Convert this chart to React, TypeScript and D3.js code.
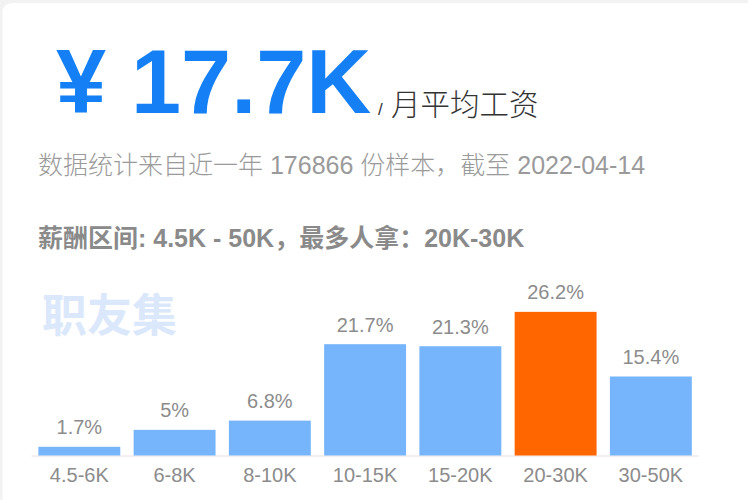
import React from "react";
import * as d3 from "d3";

const categories = ["4.5-6K", "6-8K", "8-10K", "10-15K", "15-20K", "20-30K", "30-50K"];
const shares = [1.7, 5, 6.8, 21.7, 21.3, 26.2, 15.4];
// bar lengths as drawn in the picture (the highlighted bar is drawn taller than its label)
const barLengths = [1.7, 5, 6.8, 21.7, 21.3, 28, 15.4];
const highlightCategory = "20-30K";
const yTicks = [0, 30];

const headline = "¥ 17.7K";
const headlineUnit = "月平均工资";
const subtitle = "数据统计来自近一年 176866 份样本，截至 2022-04-14";
const rangeLine = "薪酬区间: 4.5K - 50K，最多人拿：20K-30K";
const watermark = "职友集";

const W = 748;
const H = 500;

export default function App() {
  const x = d3
    .scaleBand<string>()
    .domain(categories)
    .range([31.7, 698.5])
    .paddingInner(0.14)
    .paddingOuter(0.07);
  const y = d3.scaleLinear().domain([yTicks[0], yTicks[1]]).range([455.5, 301.6]);
  const latin = "'Liberation Sans', Arial, 'Noto Sans CJK SC', sans-serif";

  return (
    <svg
      width={W}
      height={H}
      style={{ position: "absolute", left: 0, top: 0, display: "block" }}
    >
      <rect x={0} y={0} width={W} height={H} fill="#f2f2f2" />
      <rect x={2.5} y={3} width={W + 20} height={H + 20} rx={9} fill="#ffffff" />

      <text
        x={56}
        y={113}
        fill="#1580f5"
        fontFamily={latin}
        fontWeight={700}
        fontSize={90}
      >
        {headline}
      </text>
      <text x={378} y={115} fill="#333" fontFamily={latin} fontSize={17}>
        /
      </text>
      <text
        x={391}
        y={115}
        fill="#333"
        fontFamily="'Noto Sans CJK SC', sans-serif"
        fontWeight={300}
        fontSize={29.5}
      >
        {headlineUnit}
      </text>

      <text x={38} y={174} fill="#9a9a9a" fontFamily={latin} fontWeight={300} fontSize={25}>
        {subtitle}
      </text>

      <text x={38} y={247} fill="#8a8a8a" fontFamily={latin} fontWeight={700} fontSize={25}>
        {rangeLine}
      </text>

      <text
        x={42}
        y={332}
        fill="#dbe8fb"
        fontFamily="'Noto Sans CJK SC', sans-serif"
        fontWeight={700}
        fontSize={45}
      >
        {watermark}
      </text>

      <line
        x1={x.range()[0]}
        x2={x.range()[1]}
        y1={y(0) + 0.5}
        y2={y(0) + 0.5}
        stroke="#f3eaea"
        strokeWidth={1.5}
      />

      {categories.map((c, i) => {
        const bx = x(c) as number;
        const top = y(barLengths[i]);
        return (
          <g key={c}>
            <rect
              x={bx}
              y={top}
              width={x.bandwidth()}
              height={y(0) - top}
              fill={c === highlightCategory ? "#ff6600" : "#76b5fb"}
            />
            <text
              x={bx + x.bandwidth() / 2}
              y={top - 12.5}
              textAnchor="middle"
              fill="#8c8c8c"
              fontFamily={latin}
              fontSize={20}
            >
              {`${shares[i]}%`}
            </text>
            <text
              x={bx + x.bandwidth() / 2}
              y={482}
              textAnchor="middle"
              fill="#8c8c8c"
              fontFamily={latin}
              fontSize={20}
            >
              {c}
            </text>
          </g>
        );
      })}
    </svg>
  );
}
